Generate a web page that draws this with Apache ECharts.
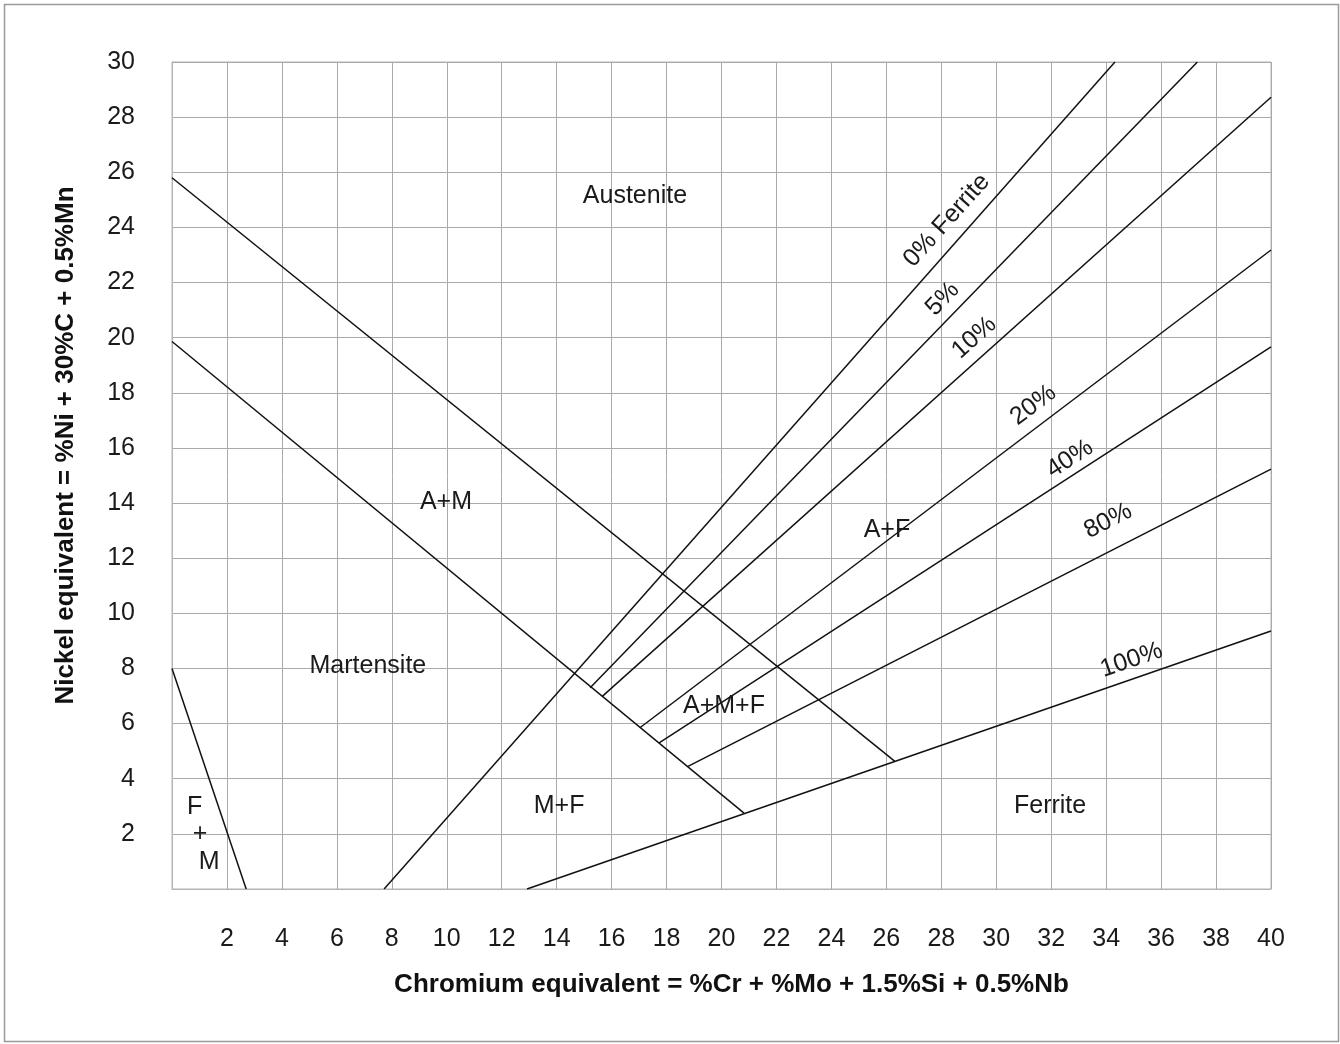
<!DOCTYPE html>
<html>
<head>
<meta charset="utf-8">
<style>
  html, body { margin: 0; padding: 0; background: #fff; }
  #chart { width: 1340px; height: 1044px; }
</style>
<script src="https://cdn.jsdelivr.net/npm/echarts@6/dist/echarts.min.js"></script>
</head>
<body>
<div id="chart"></div>
<script>
// Schaeffler diagram: phase boundaries and iso-ferrite lines (Cr eq vs Ni eq)
const xTicks = [2, 4, 6, 8, 10, 12, 14, 16, 18, 20, 22, 24, 26, 28, 30, 32, 34, 36, 38, 40];
const yTicks = [2, 4, 6, 8, 10, 12, 14, 16, 18, 20, 22, 24, 26, 28, 30];

// Phase boundaries, [Cr eq, Ni eq] end points
const fmBoundary = [[0, 8.0], [2.7, 0]];
const austeniteBoundary = [[0, 25.8], [26.3, 4.64]];
const martensiteBoundary = [[0, 19.86], [20.82, 2.75]];

// Iso-ferrite lines
const ferrite0 = [[7.72, 0], [34.32, 30]];
const ferrite5 = [[15.22, 7.3], [37.32, 30]];
const ferrite10 = [[15.65, 6.98], [40, 28.72]];
const ferrite20 = [[17.03, 5.85], [40, 23.18]];
const ferrite40 = [[17.73, 5.3], [40, 19.67]];
const ferrite80 = [[18.78, 4.45], [40, 15.23]];
const ferrite100 = [[12.92, 0], [40, 9.36]];

// Region names and their positions
const regionNames = ['Austenite', 'A+M', 'Martensite', 'M+F', 'A+M+F', 'A+F', 'Ferrite', 'F', '+', 'M'];
const regionX = [16.85, 9.97, 7.13, 14.09, 20.09, 26.02, 31.96, 0.82, 1.02, 1.35];
const regionY = [25.14, 14.04, 8.09, 3.01, 6.62, 13.02, 3.01, 2.97, 1.99, 0.98];

// Iso-ferrite line captions, position and angle along each line
const ferriteCaptions = ['0% Ferrite', '5%', '10%', '20%', '40%', '80%', '100%'];
const captionX = [28.2, 28.05, 29.2, 31.35, 32.68, 34.07, 34.92];
const captionY = [24.25, 21.4, 20.0, 17.55, 15.6, 13.35, 8.3];
const captionAngle = [48, 46, 42, 37, 33, 27, 19];

const FONT = '"Liberation Sans", "DejaVu Sans", Arial, sans-serif';
const LINE = '#111';
const TEXT = '#1a1a1a';

function lineSeries(name, pts) {
  return {
    name: name,
    type: 'line',
    data: pts,
    symbol: 'none',
    silent: true,
    lineStyle: { color: LINE, width: 1.5 },
    z: 3
  };
}

function textSeries(name, data) {
  return {
    name: name,
    type: 'scatter',
    silent: true,
    symbolSize: 1,
    itemStyle: { color: 'rgba(0,0,0,0)', opacity: 1 },
    z: 5,
    label: {
      show: true, position: 'inside',
      fontFamily: FONT, fontSize: 25, color: TEXT, opacity: 1,
      textBorderWidth: 0,
      formatter: p => p.name
    },
    data: data
  };
}

const chart = echarts.init(document.getElementById('chart'), null, { renderer: 'canvas' });

const option = {
  animation: false,
  backgroundColor: '#fff',
  graphic: [{
    type: 'rect',
    shape: { x: 4.5, y: 4.5, width: 1334, height: 1037 },
    style: { fill: 'none', stroke: '#9a9a9a', lineWidth: 1.5 },
    silent: true,
    z: -10
  }],
  grid: {
    left: 172, top: 62, width: 1099, height: 827,
    show: true, borderColor: '#b4b4b4', borderWidth: 1
  },
  xAxis: {
    type: 'value', min: 0, max: 40, interval: 2,
    name: 'Chromium equivalent = %Cr + %Mo + 1.5%Si + 0.5%Nb',
    nameLocation: 'middle', nameGap: 83,
    nameTextStyle: { fontFamily: FONT, fontWeight: 'bold', fontSize: 26, color: '#111', padding: [0, 0, 0, 20] },
    axisLine: { show: true, lineStyle: { color: '#b4b4b4', width: 1 } },
    axisTick: { show: false },
    axisLabel: {
      margin: 38, fontFamily: FONT, fontSize: 25, color: TEXT,
      formatter: v => (xTicks.indexOf(v) >= 0 ? String(v) : '')
    },
    splitLine: { show: true, lineStyle: { color: '#aaaaaa', width: 1 } }
  },
  yAxis: {
    type: 'value', min: 0, max: 30, interval: 2,
    name: 'Nickel equivalent = %Ni + 30%C + 0.5%Mn',
    nameLocation: 'middle', nameGap: 93,
    nameTextStyle: { fontFamily: FONT, fontWeight: 'bold', fontSize: 26, color: '#111', padding: [0, 0, 0, 60] },
    axisLine: { show: true, lineStyle: { color: '#b4b4b4', width: 1 } },
    axisTick: { show: false },
    axisLabel: {
      margin: 37, fontFamily: FONT, fontSize: 25, color: TEXT,
      formatter: v => (yTicks.indexOf(v) >= 0 ? String(v) : '')
    },
    splitLine: { show: true, lineStyle: { color: '#aaaaaa', width: 1 } }
  },
  series: [
    lineSeries('F+M boundary', fmBoundary),
    lineSeries('Austenite boundary', austeniteBoundary),
    lineSeries('Martensite boundary', martensiteBoundary),
    lineSeries('0%', ferrite0),
    lineSeries('5%', ferrite5),
    lineSeries('10%', ferrite10),
    lineSeries('20%', ferrite20),
    lineSeries('40%', ferrite40),
    lineSeries('80%', ferrite80),
    lineSeries('100%', ferrite100),
    textSeries('regions', regionNames.map((n, i) => ({ name: n, value: [regionX[i], regionY[i]] }))),
    textSeries('captions', ferriteCaptions.map((n, i) => ({
      name: n,
      value: [captionX[i], captionY[i]],
      label: { rotate: captionAngle[i] }
    })))
  ]
};

chart.setOption(option);
</script>
</body>
</html>
